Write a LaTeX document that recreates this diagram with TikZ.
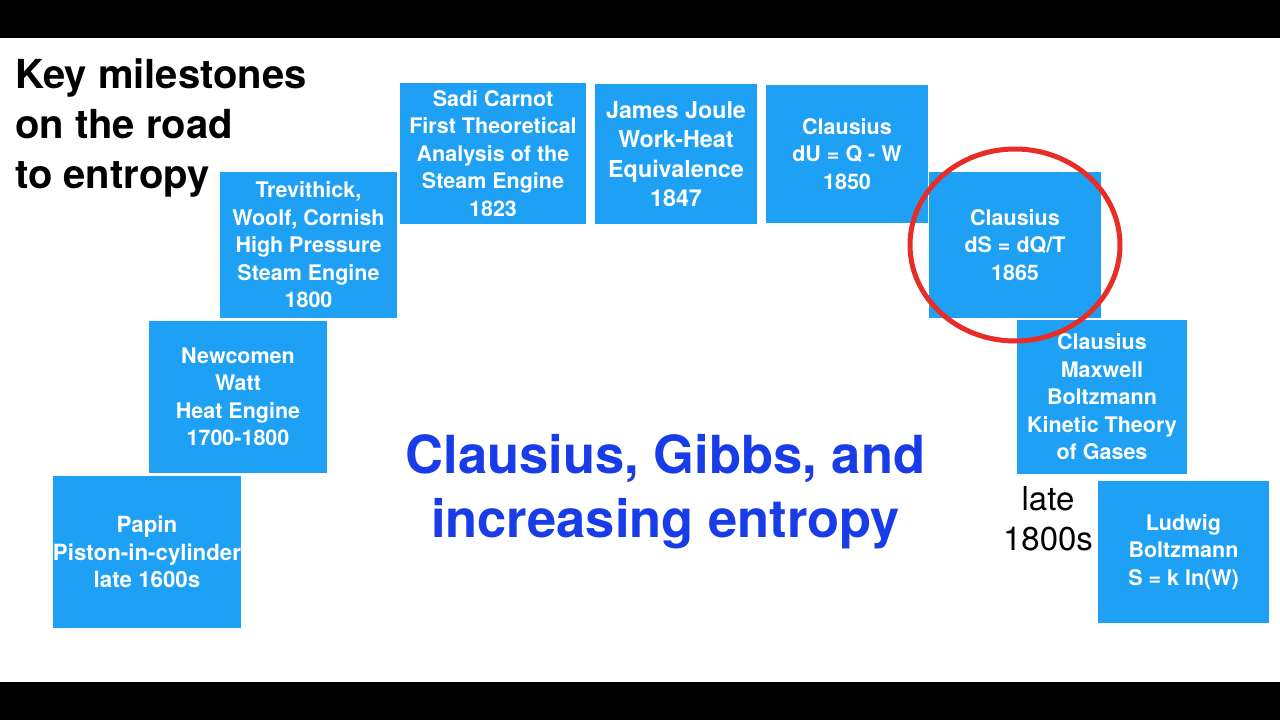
\documentclass[tikz,border=0pt]{standalone}
\usepackage{fontspec}
\setmainfont{TeX Gyre Heros}
\definecolor{boxblue}{RGB}{30,160,245}
\definecolor{titleblue}{RGB}{24,60,232}
\definecolor{ringred}{RGB}{232,44,38}
\begin{document}
\begin{tikzpicture}[x=1pt,y=-1pt,
  box/.style={fill=boxblue, text=white, inner sep=0pt, align=center,
    font=\bfseries\fontsize{21.5}{27.5}\selectfont},
  ring/.style={draw=ringred, line width=5pt}]
\useasboundingbox (0,0) rectangle (1280,720);
\fill[white] (0,0) rectangle (1280,720);
\fill[black] (0,0) rectangle (1280,38);
\fill[black] (0,682) rectangle (1280,720);

\node[anchor=north west, inner sep=0pt, align=left,
  font=\bfseries\fontsize{40}{50}\selectfont] (title) at (15,58)
  {Key milestones\\on the road\\to entropy};

\node[box, minimum width=186pt, minimum height=152pt,
  font=\bfseries\fontsize{22.3}{27.5}\selectfont] (papin) at (147,552)
  {Papin\\Piston-in-cylinder\\late 1600s};
\node[box, minimum width=178pt, minimum height=152pt] (newcomen) at (238,397)
  {Newcomen\\Watt\\Heat Engine\\1700-1800};
\node[box, minimum width=177pt, minimum height=146pt] (trevithick) at (308.5,245)
  {Trevithick,\\Woolf, Cornish\\High Pressure\\Steam Engine\\1800};
\node[box, minimum width=186pt, minimum height=141pt] (carnot) at (493,153.5)
  {Sadi Carnot\\First Theoretical\\Analysis of the\\Steam Engine\\1823};
\node[box, minimum width=162pt, minimum height=140pt,
  font=\bfseries\fontsize{23.3}{29.5}\selectfont] (joule) at (676,154)
  {James Joule\\Work-Heat\\Equivalence\\1847};
\node[box, minimum width=162pt, minimum height=138pt] (clausiusA) at (847,154)
  {Clausius\\dU = Q - W\\1850};
\node[box, minimum width=172pt, minimum height=146pt] (clausiusB) at (1015,245)
  {Clausius\\dS = dQ/T\\1865};
\node[box, minimum width=170pt, minimum height=154pt] (kinetic) at (1102,397)
  {Clausius\\Maxwell\\Boltzmann\\Kinetic Theory\\of Gases};
\node[box, minimum width=171pt, minimum height=142pt] (boltzmann) at (1183.5,552)
  {Ludwig\\Boltzmann\\S = k ln(W)};

\node[inner sep=0pt, align=center, font=\fontsize{33}{40}\selectfont] (late) at (1048,519)
  {late\\1800s};

\node[inner sep=0pt, align=center, text=titleblue,
  font=\bfseries\fontsize{52.5}{64}\selectfont] (main) at (665.5,492)
  {Clausius, Gibbs, and\\increasing entropy};

\draw[ring] (clausiusB.center) ellipse [x radius=105pt, y radius=96pt];
\end{tikzpicture}
\end{document}
